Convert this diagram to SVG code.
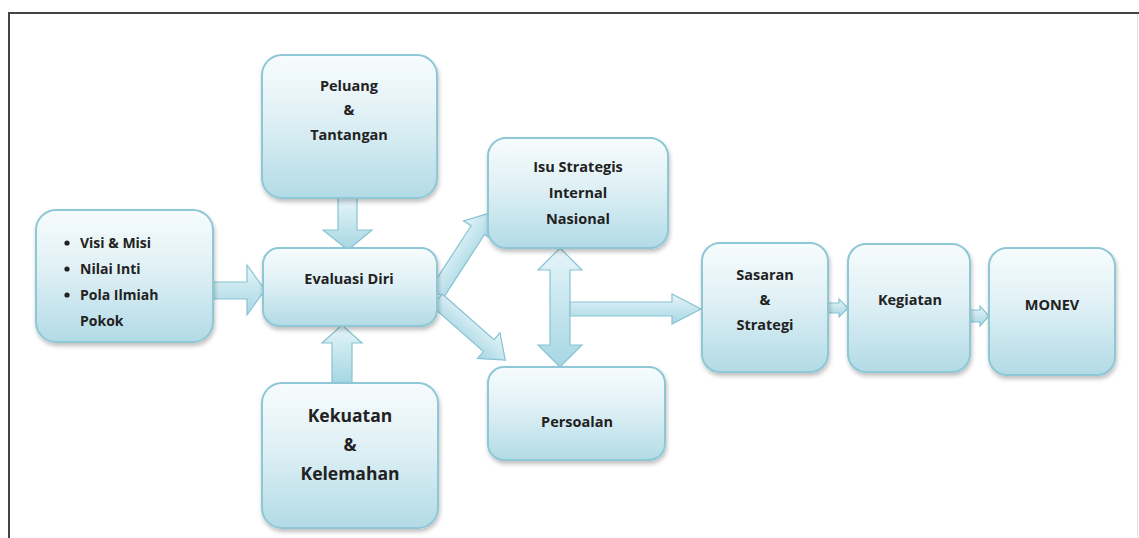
<svg xmlns="http://www.w3.org/2000/svg" width="1139" height="538" viewBox="0 0 1139 538">
  <defs>
    <linearGradient id="boxGrad" x1="0" y1="0" x2="0" y2="1">
      <stop offset="0" stop-color="#f7fcfd"/>
      <stop offset="0.45" stop-color="#dff0f5"/>
      <stop offset="1" stop-color="#b2dbe6"/>
    </linearGradient>
    <linearGradient id="arrGrad" x1="0" y1="0" x2="0" y2="1">
      <stop offset="0" stop-color="#e6f5f9"/>
      <stop offset="1" stop-color="#a6d6e3"/>
    </linearGradient>
    <filter id="shadow" x="-10%" y="-10%" width="125%" height="125%">
      <feGaussianBlur in="SourceAlpha" stdDeviation="2"/>
      <feOffset dx="1" dy="3" result="b"/>
      <feComponentTransfer><feFuncA type="linear" slope="0.25"/></feComponentTransfer>
      <feMerge><feMergeNode/><feMergeNode in="SourceGraphic"/></feMerge>
    </filter>
  </defs>
  <style>
    .box { fill: url(#boxGrad); stroke: #8ec7d6; stroke-width: 2; filter: url(#shadow); }
    .arr { fill: url(#arrGrad); stroke: #86c3d3; stroke-width: 1.2; stroke-linejoin: miter; }
    .t { font-family: "Open Sans", "Liberation Sans", sans-serif; font-weight: 700; fill: #222; font-size: 14.5px; text-anchor: middle; }
    .big { font-size: 17.5px; }
    .lst { text-anchor: start; font-size: 14px; }
    .frame { stroke: #444; stroke-width: 2; fill: none; }
  </style>
  <rect x="0" y="0" width="1139" height="538" fill="#ffffff"/>
  <path class="frame" d="M9,538 V13 H1139"/>
  <line x1="1137.5" y1="14" x2="1137.5" y2="538" stroke="#e4e4e4" stroke-width="1"/>

  <g id="connectors">
    <polygon class="arr" points="212,282 247,282 247,265 265,290 247,315 247,299 212,299"/>
    <polygon class="arr" points="338,198 357,198 357,230 372,230 348,250 323,230 338,230"/>
    <polygon class="arr" points="332,383 352,383 352,343 362,343 342,325 322,343 332,343"/>
    <polygon class="arr" transform="translate(437,293) rotate(-57)" points="0,-8 75,-8 75,-17 95,0 75,17 75,8 0,8"/>
    <polygon class="arr" transform="translate(437,300) rotate(41.4)" points="0,-8 69,-8 69,-17 91,0 69,17 69,8 0,8"/>
    <polygon class="arr" points="560,248 582,270 570,270 570,345 582,345 560,367 538,345 550,345 550,270 538,270"/>
    <polygon class="arr" points="570,302 672,302 672,294 701,309 672,324 672,316 570,316"/>
    <polygon class="arr" points="828,303 839,303 839,299 848,308 839,317 839,313 828,313"/>
    <polygon class="arr" points="970,310 980,310 980,306 989,316 980,326 980,322 970,322"/>
  </g>

  <g id="node-visi">
    <rect class="box" x="36" y="210" width="177" height="132" rx="20"/>
    <circle cx="67" cy="243" r="2.6" fill="#222"/>
    <circle cx="67" cy="269" r="2.6" fill="#222"/>
    <circle cx="67" cy="295" r="2.6" fill="#222"/>
    <text class="t lst" x="80" y="248">Visi &amp; Misi</text>
    <text class="t lst" x="80" y="274">Nilai Inti</text>
    <text class="t lst" x="80" y="300">Pola Ilmiah</text>
    <text class="t lst" x="80" y="326">Pokok</text>
  </g>

  <g id="node-peluang">
    <rect class="box" x="262" y="55" width="175" height="143" rx="20"/>
    <text class="t" x="349" y="91">Peluang</text>
    <text class="t" x="349" y="115">&amp;</text>
    <text class="t" x="349" y="140">Tantangan</text>
  </g>

  <g id="node-evaluasi">
    <rect class="box" x="263" y="248" width="174" height="78" rx="16"/>
    <text class="t" x="349" y="284">Evaluasi Diri</text>
  </g>

  <g id="node-kekuatan">
    <rect class="box" x="262" y="383" width="176" height="145" rx="20"/>
    <text class="t big" x="350" y="422">Kekuatan</text>
    <text class="t big" x="350" y="451">&amp;</text>
    <text class="t big" x="350" y="480">Kelemahan</text>
  </g>

  <g id="node-isu">
    <rect class="box" x="488" y="138" width="180" height="110" rx="18"/>
    <text class="t" x="578" y="172">Isu Strategis</text>
    <text class="t" x="578" y="198">Internal</text>
    <text class="t" x="578" y="224">Nasional</text>
  </g>

  <g id="node-persoalan">
    <rect class="box" x="488" y="367" width="177" height="93" rx="16"/>
    <text class="t" x="577" y="427">Persoalan</text>
  </g>

  <g id="node-sasaran">
    <rect class="box" x="702" y="243" width="126" height="129" rx="18"/>
    <text class="t" x="765" y="280">Sasaran</text>
    <text class="t" x="765" y="305">&amp;</text>
    <text class="t" x="765" y="330">Strategi</text>
  </g>

  <g id="node-kegiatan">
    <rect class="box" x="848" y="244" width="122" height="128" rx="18"/>
    <text class="t" x="910" y="305">Kegiatan</text>
  </g>

  <g id="node-monev">
    <rect class="box" x="989" y="248" width="126" height="127" rx="18"/>
    <text class="t" x="1052" y="310">MONEV</text>
  </g>
</svg>
